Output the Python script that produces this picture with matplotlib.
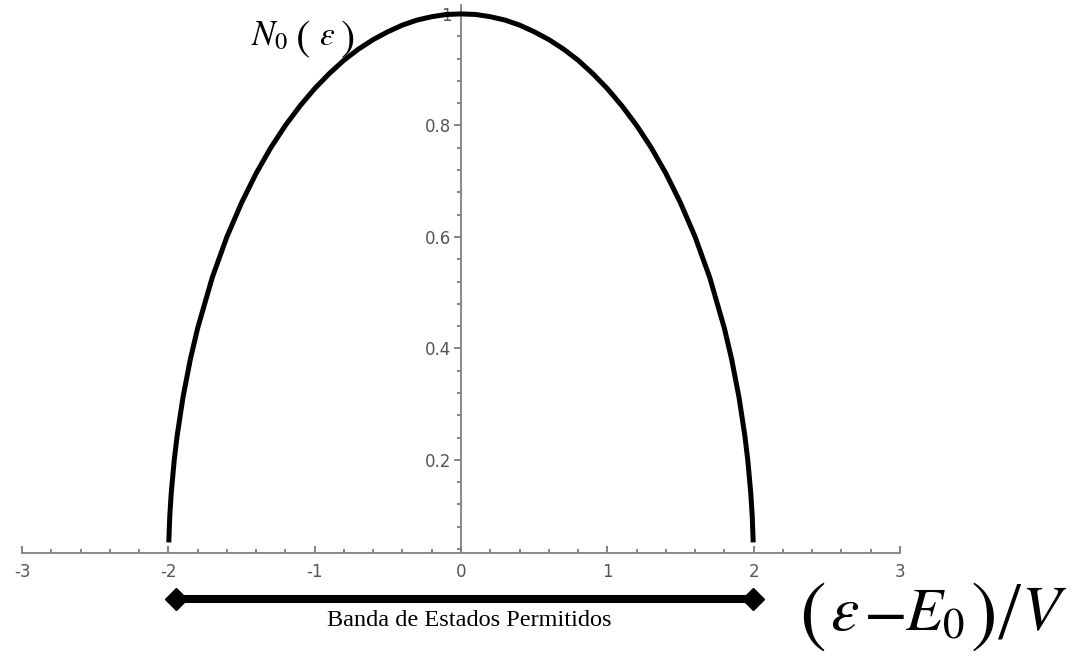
"""
Densidad de estados N0(e) para la banda permitida.
"""

import matplotlib
matplotlib.use('Agg')
import matplotlib.pyplot as plt
from matplotlib.ticker import MultipleLocator, FuncFormatter

plt.rcParams['mathtext.fontset'] = 'stix'
plt.rcParams['axes.unicode_minus'] = False

# Curva N0 vs (e - E0)/V
energia = [-1.997, -1.99, -1.98, -1.96, -1.94, -1.9, -1.85, -1.8, -1.7, -1.6,
           -1.5, -1.4, -1.3, -1.2, -1.1, -1.0, -0.9, -0.8, -0.7, -0.6,
           -0.5, -0.4, -0.3, -0.2, -0.1, 0.0, 0.1, 0.2, 0.3, 0.4,
           0.5, 0.6, 0.7, 0.8, 0.9, 1.0, 1.1, 1.2, 1.3, 1.4,
           1.5, 1.6, 1.7, 1.8, 1.85, 1.9, 1.94, 1.96, 1.98, 1.99, 1.997]
densidad = [0.052, 0.100, 0.141, 0.199, 0.243, 0.312, 0.380, 0.436, 0.527, 0.600,
            0.661, 0.714, 0.760, 0.800, 0.835, 0.866, 0.893, 0.917, 0.937, 0.954,
            0.968, 0.980, 0.989, 0.995, 0.999, 1.000, 0.999, 0.995, 0.989, 0.980,
            0.968, 0.954, 0.937, 0.917, 0.893, 0.866, 0.835, 0.800, 0.760, 0.714,
            0.661, 0.600, 0.527, 0.436, 0.380, 0.312, 0.243, 0.199, 0.141, 0.100, 0.052]

# Extremos de la banda permitida
banda_x = [-1.948, 1.996]
banda_y = -0.049

x_ticks = [-3, -2, -1, 0, 1, 2, 3]
y_ticks = [0.2, 0.4, 0.6, 0.8, 1.0]

W, H = 1078, 657
fig = plt.figure(figsize=(W / 100, H / 100), dpi=100)
ax = fig.add_axes([22 / W, 104 / H, 878 / W, 548 / H])


def px(x, y, s, size, **kw):
    """Texto colocado en pixeles de la figura (origen arriba a la izquierda)."""
    fig.text(x / W, 1 - y / H, s, fontsize=size, **kw)


ax.plot(energia, densidad, color='black', linewidth=3.6,
        solid_capstyle='butt', zorder=3)

ax.set_xlim(-3, 3)
ax.set_ylim(0.033, 1.016)

# Ejes estilo Maple: eje y en x = 0
for lado in ('top', 'right'):
    ax.spines[lado].set_visible(False)
ax.spines['left'].set_position(('data', 0))
for lado in ('left', 'bottom'):
    ax.spines[lado].set_color('#808080')
    ax.spines[lado].set_linewidth(1.3)

fmt = FuncFormatter(lambda v, pos: f'{v:g}')
ax.set_xticks(x_ticks)
ax.set_yticks(y_ticks)
ax.xaxis.set_major_formatter(fmt)
ax.yaxis.set_major_formatter(fmt)
ax.xaxis.set_minor_locator(MultipleLocator(0.2))
ax.yaxis.set_minor_locator(MultipleLocator(0.04))

ax.tick_params(axis='x', which='both', direction='in', color='#707070',
               labelcolor='#555555', labelsize=12, pad=7)
ax.tick_params(axis='x', which='major', length=5, width=1.2)
ax.tick_params(axis='x', which='minor', length=3, width=1.2)
ax.tick_params(axis='y', which='both', direction='out', color='#707070',
               labelcolor='#555555', labelsize=12, pad=2)
ax.tick_params(axis='y', which='major', length=5, width=1.2)
ax.tick_params(axis='y', which='minor', length=3, width=1.2)

# Barra de la banda permitida con rombos en los extremos
ax.plot(banda_x, [banda_y, banda_y], color='black', linewidth=5.8,
        marker='D', markersize=11, clip_on=False, zorder=4)

px(469, 621, 'Banda de Estados Permitidos', 17.5,
   family='Liberation Serif', ha='center', va='center')

# Etiqueta del eje y: N0(e), con parentesis grandes
px(251, 45, r'$N_0$', 25, ha='left', va='baseline')
px(303, 39, r'$($', 31, ha='center', va='center')
px(327, 45, r'$\varepsilon$', 24, ha='center', va='baseline')
px(347, 39, r'$)$', 31, ha='center', va='center')

# Etiqueta del eje x: (e - E0)/V
px(812, 615, r'$($', 58, ha='center', va='center')
px(845, 630, r'$\varepsilon$', 46, ha='center', va='baseline')
px(884, 613, r'$-$', 46, ha='center', va='center')
px(905, 630, r'$E_0$', 44, ha='left', va='baseline')
px(982, 615, r'$)$', 58, ha='center', va='center')
px(1010, 618, '/', 60, family='Liberation Serif', ha='center', va='center')
px(1044, 630, r'$V$', 46, ha='center', va='baseline')

fig.savefig('out.png', dpi=100)
plt.close(fig)
